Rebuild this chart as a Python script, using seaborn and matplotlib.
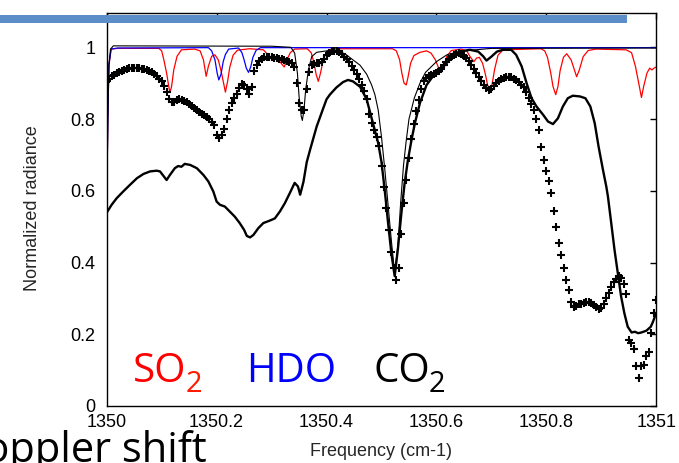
import numpy as np
import pandas as pd
import matplotlib
matplotlib.use("Agg")
import matplotlib.pyplot as plt
import seaborn as sns
from matplotlib.patches import Rectangle

BASE = 1350.0

# Observed spectrum (+ markers), regular sampling from 1350 to 1351 cm-1
obs_values = [
    0.905, 0.912, 0.919, 0.924, 0.928, 0.932, 0.935, 0.937, 0.940, 0.941,
    0.942, 0.942, 0.942, 0.941, 0.940, 0.939, 0.936, 0.934, 0.930, 0.925,
    0.920, 0.913, 0.905, 0.891, 0.875, 0.857, 0.848, 0.847, 0.852, 0.855,
    0.854, 0.851, 0.847, 0.842, 0.837, 0.832, 0.826, 0.821, 0.815, 0.811,
    0.806, 0.800, 0.793, 0.783, 0.756, 0.747, 0.756, 0.772, 0.800, 0.825,
    0.845, 0.858, 0.870, 0.887, 0.897, 0.895, 0.884, 0.871, 0.890, 0.933,
    0.950, 0.961, 0.967, 0.972, 0.973, 0.974, 0.973, 0.971, 0.969, 0.967,
    0.966, 0.964, 0.963, 0.960, 0.955, 0.945, 0.900, 0.844, 0.826, 0.824,
    0.885, 0.932, 0.951, 0.954, 0.956, 0.957, 0.958, 0.966, 0.978, 0.985,
    0.989, 0.990, 0.989, 0.986, 0.980, 0.974, 0.967, 0.959, 0.948, 0.937,
    0.925, 0.912, 0.895, 0.878, 0.856, 0.815, 0.790, 0.770, 0.750, 0.725,
    0.670, 0.610, 0.552, 0.492, 0.430, 0.384, 0.352, 0.384, 0.480, 0.565,
    0.630, 0.690, 0.745, 0.785, 0.822, 0.852, 0.883, 0.905, 0.914, 0.919,
    0.922, 0.925, 0.928, 0.933, 0.940, 0.950, 0.960, 0.968, 0.974, 0.978,
    0.981, 0.984, 0.982, 0.977, 0.971, 0.962, 0.950, 0.940, 0.928, 0.917,
    0.906, 0.895, 0.886, 0.880, 0.885, 0.893, 0.900, 0.906, 0.911, 0.915,
    0.918, 0.918, 0.916, 0.913, 0.908, 0.903, 0.896, 0.888, 0.874, 0.860,
    0.843, 0.825, 0.800, 0.770, 0.722, 0.685, 0.655, 0.628, 0.595, 0.545,
    0.500, 0.455, 0.420, 0.386, 0.351, 0.322, 0.290, 0.276, 0.280, 0.283,
    0.285, 0.287, 0.290, 0.290, 0.286, 0.281, 0.276, 0.271, 0.272, 0.285,
    0.300, 0.316, 0.332, 0.345, 0.355, 0.363, 0.356, 0.340, 0.312, 0.184,
    0.175, 0.159, 0.112, 0.077, 0.112, 0.115, 0.139, 0.150, 0.203, 0.258,
    0.296,
]

# Thick black line (model / convolved spectrum)
thick_df = [0.000, 0.009, 0.018, 0.030, 0.042, 0.055, 0.067, 0.079, 0.091, 0.097,
            0.103, 0.109, 0.115, 0.124, 0.130, 0.136, 0.142, 0.152, 0.164, 0.176,
            0.185, 0.194, 0.200, 0.206, 0.215, 0.224, 0.233, 0.242, 0.250, 0.255,
            0.261, 0.267, 0.276, 0.285, 0.297, 0.306, 0.315, 0.324, 0.333, 0.342,
            0.348, 0.352, 0.358, 0.364, 0.370, 0.382, 0.394, 0.400, 0.406, 0.418,
            0.430, 0.439, 0.448, 0.461, 0.473, 0.485, 0.494, 0.500, 0.506, 0.512,
            0.518, 0.524, 0.530, 0.536, 0.542, 0.548, 0.555, 0.561, 0.570, 0.582,
            0.594, 0.606, 0.618, 0.630, 0.642, 0.661, 0.676, 0.685, 0.691, 0.700,
            0.710, 0.721, 0.736, 0.745, 0.755, 0.764, 0.773, 0.782, 0.794, 0.803,
            0.812, 0.821, 0.830, 0.839, 0.848, 0.861, 0.871, 0.880, 0.888, 0.895,
            0.903, 0.909, 0.912, 0.918, 0.924, 0.930, 0.936, 0.942, 0.948, 0.955,
            0.961, 0.967, 0.973, 0.982, 0.990, 0.994, 1.000]
thick_val = [0.539, 0.561, 0.579, 0.598, 0.616, 0.635, 0.647, 0.654, 0.656, 0.654,
             0.642, 0.630, 0.644, 0.663, 0.669, 0.667, 0.675, 0.672, 0.663, 0.644,
             0.626, 0.598, 0.570, 0.561, 0.556, 0.542, 0.528, 0.510, 0.491, 0.474,
             0.470, 0.477, 0.496, 0.510, 0.517, 0.523, 0.542, 0.565, 0.593, 0.622,
             0.612, 0.589, 0.625, 0.680, 0.714, 0.779, 0.830, 0.855, 0.868, 0.888,
             0.903, 0.909, 0.905, 0.890, 0.855, 0.785, 0.733, 0.680, 0.600, 0.510,
             0.425, 0.362, 0.440, 0.535, 0.620, 0.685, 0.745, 0.790, 0.845, 0.895,
             0.920, 0.935, 0.955, 0.979, 0.988, 0.993, 0.988, 0.975, 0.963, 0.974,
             0.988, 0.993, 0.993, 0.979, 0.947, 0.900, 0.858, 0.835, 0.812, 0.793,
             0.786, 0.802, 0.835, 0.858, 0.865, 0.863, 0.858, 0.835, 0.788, 0.723,
             0.658, 0.612, 0.584, 0.510, 0.435, 0.370, 0.305, 0.258, 0.221, 0.205,
             0.207, 0.203, 0.205, 0.210, 0.221, 0.235, 0.260]

# Thin black line (CO2 transmittance)
co2_df = [0.000, 0.002, 0.004, 0.007, 0.012, 0.300, 0.335, 0.342, 0.347, 0.350,
          0.354, 0.356, 0.359, 0.362, 0.367, 0.373, 0.382, 0.400, 0.412, 0.425,
          0.436, 0.448, 0.461, 0.473, 0.482, 0.488, 0.494, 0.500, 0.506, 0.512,
          0.518, 0.524, 0.530, 0.535, 0.540, 0.545, 0.550, 0.560, 0.570, 0.580,
          0.600, 0.620, 0.650, 0.700, 1.000]
co2_val = [0.54, 0.80, 0.95, 0.995, 1.004, 1.003, 1.000, 0.984, 0.928, 0.863,
           0.807, 0.796, 0.826, 0.881, 0.937, 0.974, 0.986, 0.990, 0.993, 0.988,
           0.979, 0.965, 0.950, 0.925, 0.895, 0.868, 0.825, 0.750, 0.660, 0.560,
           0.460, 0.370, 0.450, 0.570, 0.670, 0.740, 0.800, 0.860, 0.900, 0.930,
           0.960, 0.980, 0.990, 0.997, 0.998]

# Red line (SO2 transmittance)
so2_df = [0.000, 0.002, 0.004, 0.008, 0.020, 0.095, 0.100, 0.104, 0.109, 0.113,
          0.115, 0.118, 0.122, 0.128, 0.136, 0.160, 0.170, 0.176, 0.181, 0.185,
          0.191, 0.197, 0.203, 0.208, 0.212, 0.216, 0.220, 0.224, 0.230, 0.238,
          0.260, 0.285, 0.293, 0.299, 0.305, 0.310, 0.316, 0.323, 0.328, 0.334,
          0.342, 0.365, 0.372, 0.377, 0.381, 0.385, 0.389, 0.394, 0.400, 0.410,
          0.520, 0.527, 0.533, 0.537, 0.541, 0.545, 0.548, 0.553, 0.559, 0.570,
          0.582, 0.590, 0.598, 0.604, 0.609, 0.613, 0.619, 0.627, 0.645, 0.655,
          0.662, 0.668, 0.673, 0.678, 0.684, 0.689, 0.693, 0.697, 0.701, 0.706,
          0.712, 0.721, 0.790, 0.797, 0.802, 0.808, 0.812, 0.817, 0.821, 0.825,
          0.831, 0.837, 0.845, 0.851, 0.855, 0.860, 0.867, 0.876, 0.890, 0.945,
          0.955, 0.962, 0.968, 0.973, 0.977, 0.983, 0.988, 0.992, 0.996, 1.000]
so2_val = [0.54, 0.80, 0.95, 0.995, 0.997, 0.997, 0.990, 0.965, 0.928, 0.890,
           0.874, 0.890, 0.937, 0.975, 0.993, 0.995, 0.990, 0.965, 0.919, 0.947,
           0.975, 0.979, 0.965, 0.935, 0.905, 0.875, 0.905, 0.945, 0.978, 0.992,
           0.996, 0.993, 0.980, 0.969, 0.975, 0.972, 0.958, 0.945, 0.965, 0.985,
           0.995, 0.996, 0.985, 0.958, 0.925, 0.905, 0.928, 0.965, 0.988, 0.996,
           0.996, 0.990, 0.965, 0.928, 0.900, 0.895, 0.915, 0.956, 0.977, 0.986,
           0.990, 0.984, 0.965, 0.942, 0.930, 0.945, 0.975, 0.991, 0.995, 0.990,
           0.972, 0.960, 0.970, 0.972, 0.955, 0.925, 0.895, 0.882, 0.895, 0.940,
           0.978, 0.993, 0.996, 0.990, 0.972, 0.928, 0.891, 0.868, 0.890, 0.935,
           0.972, 0.982, 0.965, 0.937, 0.918, 0.937, 0.974, 0.991, 0.995, 0.993,
           0.985, 0.947, 0.900, 0.860, 0.891, 0.928, 0.942, 0.937, 0.942, 0.945]

# Blue line (HDO transmittance)
hdo_df = [0.000, 0.002, 0.004, 0.008, 0.020, 0.185, 0.191, 0.197, 0.201, 0.204,
          0.208, 0.212, 0.216, 0.222, 0.240, 0.246, 0.250, 0.254, 0.258, 0.262,
          0.266, 0.272, 0.280, 1.000]
hdo_val = [0.54, 0.80, 0.95, 0.995, 0.998, 0.999, 0.990, 0.965, 0.928, 0.909,
           0.925, 0.960, 0.980, 0.995, 0.998, 0.985, 0.965, 0.942, 0.930, 0.945,
           0.972, 0.992, 0.999, 0.999]

x_ticks = [1350, 1350.2, 1350.4, 1350.6, 1350.8, 1351]
x_tick_labels = ["1350", "1350.2", "1350.4", "1350.6", "1350.8", "1351"]
y_ticks = [0, 0.2, 0.4, 0.6, 0.8, 1]
y_tick_labels = ["0", "0.2", "0.4", "0.6", "0.8", "1"]

obs = pd.DataFrame({"freq": np.linspace(BASE, BASE + 1.0, len(obs_values)),
                    "val": obs_values})
thick = pd.DataFrame({"freq": BASE + np.array(thick_df), "val": thick_val})
co2 = pd.DataFrame({"freq": BASE + np.array(co2_df), "val": co2_val})
so2 = pd.DataFrame({"freq": BASE + np.array(so2_df), "val": so2_val})
hdo = pd.DataFrame({"freq": BASE + np.array(hdo_df), "val": hdo_val})

sns.set_style("white")
plt.rcParams["font.family"] = ["Liberation Sans", "DejaVu Sans"]

W, H = 679, 463
fig = plt.figure(figsize=(W / 100, H / 100), dpi=100)
ax_l, ax_r, ax_b, ax_t = 106.7, 656.3, 406.0, 12.5
ax = fig.add_axes([ax_l / W, 1 - ax_b / H, (ax_r - ax_l) / W, (ax_b - ax_t) / H])

sns.lineplot(data=so2, x="freq", y="val", ax=ax, color="#ff0000", lw=0.9,
             sort=False, estimator=None)
sns.lineplot(data=hdo, x="freq", y="val", ax=ax, color="#0000ff", lw=0.9,
             sort=False, estimator=None)
sns.lineplot(data=co2, x="freq", y="val", ax=ax, color="black", lw=0.8,
             sort=False, estimator=None)
sns.lineplot(data=thick, x="freq", y="val", ax=ax, color="black", lw=1.7,
             sort=False, estimator=None)
sns.scatterplot(data=obs, x="freq", y="val", ax=ax, marker="+", color="black",
                s=30, linewidth=1.5, zorder=5)

ax.set_xlim(1350, 1351)
ax.set_ylim(0, 1.097)
ax.set_xticks(x_ticks)
ax.set_xticklabels(x_tick_labels)
ax.set_yticks(y_ticks)
ax.set_yticklabels(y_tick_labels)
ax.tick_params(direction="in", top=True, right=True, length=4, width=1.0,
               labelsize=13, colors="black")
ax.tick_params(axis="x", pad=6)
ax.tick_params(axis="y", pad=8)
for sp in ax.spines.values():
    sp.set_visible(True)
    sp.set_color("black")
    sp.set_linewidth(1.0)

ax.set_xlabel("Frequency (cm-1)", fontsize=13)
ax.set_ylabel("Normalized radiance", fontsize=13)
ax.xaxis.set_label_coords(0.5, -0.094)
ax.yaxis.set_label_coords(-0.12, 0.503)

big = ["Open Sans", "DejaVu Sans"]
def ftxt(px, py, s, size, color, ha="left"):
    fig.text(px / W, 1 - py / H, s, fontsize=size, color=color, family=big,
             ha=ha, va="baseline")

ftxt(133, 381.7, "SO", 29, "#ff0000")
ftxt(186, 392, "2", 21, "#ff1a00")
ftxt(246, 381.7, "HDO", 29, "#0000ff")
ftxt(374, 381.7, "CO", 29, "black")
ftxt(429, 392, "2", 21, "black")
ftxt(207, 462, "Doppler shift", 30, "black", ha="right")

fig.patches.append(Rectangle((0, 1 - 23 / H), 627 / W, 8 / H,
                             transform=fig.transFigure, facecolor="#5b8ec8",
                             edgecolor="none", zorder=10))

fig.savefig("out.png", dpi=100)
